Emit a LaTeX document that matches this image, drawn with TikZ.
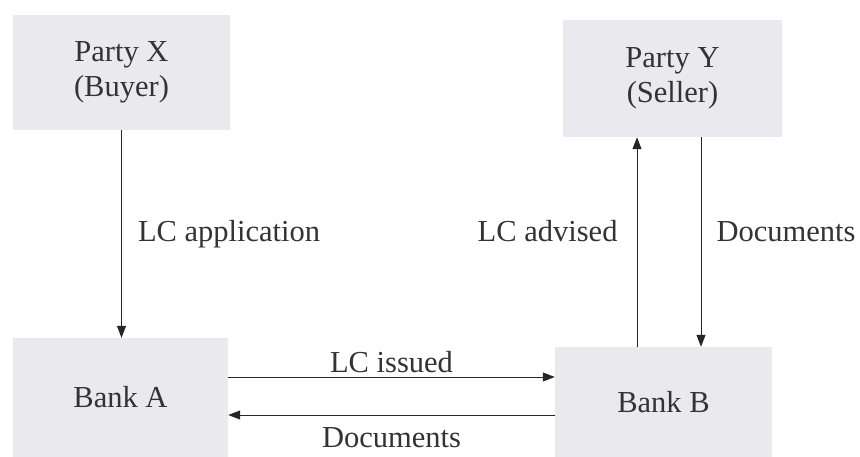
\documentclass[tikz,border=0pt]{standalone}
\usepackage{fontspec}
\setmainfont{Liberation Serif}
\usetikzlibrary{arrows.meta}
\definecolor{boxgrey}{RGB}{234,233,238}
\begin{document}
\begin{tikzpicture}[x=1pt,y=-1pt]
        \tikzstyle{box_style} = [rectangle,fill=boxgrey,text=black!80,align=center,font=\fontsize{30.5}{35}\selectfont]
        \tikzstyle{edge_style} = [draw=black!85,line width=1pt,-{Triangle[length=12pt,width=9pt]}]
        \tikzstyle{label_style} = [text=black!80,inner sep=3pt,font=\fontsize{30.5}{35}\selectfont]
        \useasboundingbox (0,0) rectangle (860,457);
        \node[box_style,minimum width=217pt,minimum height=115pt] (px) at (121.5,72.5) {Party X\\(Buyer)};
        \node[box_style,minimum width=219pt,minimum height=117pt] (py) at (672.5,78.5) {Party Y\\(Seller)};
        \node[box_style,minimum width=215pt,minimum height=119pt] (ba) at (120.5,397.5) {Bank A};
        \node[box_style,minimum width=217pt,minimum height=110pt] (bb) at (663.5,402) {Bank B};
        \draw[edge_style]  (px.south) -- (px.south |- ba.north)
            node[label_style,midway,right=13pt] {LC application};
        \draw[edge_style]  ([xshift=-26.5pt]bb.north) -- ([xshift=-26.5pt]bb.north |- py.south)
            node[label_style,pos=0.55,left=16pt] {LC advised};
        \draw[edge_style]  ([xshift=28.5pt]py.south) -- ([xshift=28.5pt]py.south |- bb.north)
            node[label_style,pos=0.45,right=12pt] {Documents};
        \draw[edge_style]  ([yshift=20.5pt]ba.east) -- ([yshift=20.5pt]ba.east -| bb.west)
            node[label_style,midway,above=1pt] {LC issued};
        \draw[edge_style]  ([yshift=-17.5pt]ba.east -| bb.west) -- ([yshift=-17.5pt]ba.east)
            node[label_style,inner sep=1pt,midway,below=11pt] {Documents};
      \end{tikzpicture}
\end{document}
